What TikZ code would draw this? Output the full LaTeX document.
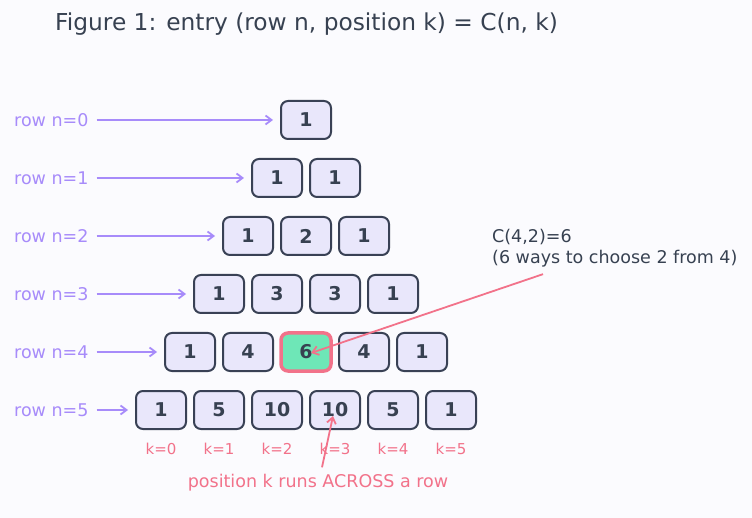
\documentclass[tikz,border=0pt]{standalone}
\usepackage{fontspec}
\setmainfont{DejaVu Sans}
\usetikzlibrary{arrows.meta,positioning}
\definecolor{paperbg}{HTML}{FBFBFE}
\definecolor{slateink}{HTML}{374151}
\definecolor{cellfill}{HTML}{E9E7FB}
\definecolor{cellline}{HTML}{394155}
\definecolor{rowpurple}{HTML}{A78BFA}
\definecolor{notepink}{HTML}{F2728A}
\definecolor{pickgreen}{HTML}{6EE7B7}
\tikzset{
  cell/.style={
    draw=cellline,
    fill=cellfill,
    rounded corners=7pt,
    line width=2pt,
    minimum width=50pt,
    minimum height=38pt,
    inner sep=0pt,
    outer sep=0pt,
    text=slateink,
    font=\fontsize{19}{22}\selectfont\bfseries
  },
  pickedcell/.style={
    cell,
    draw=notepink,
    fill=pickgreen,
    line width=3.5pt
  },
  rowlabel/.style={
    anchor=west,
    inner sep=0pt,
    text=rowpurple,
    font=\fontsize{17.5}{21}\selectfont
  },
  klabel/.style={
    inner sep=0pt,
    text=notepink,
    font=\fontsize{15}{18}\selectfont
  },
  rowarrow/.style={
    -{Straight Barb[length=6pt,width=9pt]},
    line width=1.8pt,
    draw=rowpurple,
    shorten <=8pt,
    shorten >=8pt
  },
  notearrow/.style={
    -{Straight Barb[length=6pt,width=9pt]},
    line width=1.8pt,
    draw=notepink
  }
}

\begin{document}
\begin{tikzpicture}[x=1pt,y=-1pt,node distance=8pt and 8pt]
  \fill[paperbg] (0,0) rectangle (752,518);
  \useasboundingbox (0,0) rectangle (752,518);

  \node[anchor=west, inner sep=0pt, text=slateink, font=\fontsize{23.3}{28}\selectfont] (title) at (55,24) {Figure 1: entry (row n, position k) = C(n, k)};

  % rows of the triangle
  \node[cell] (r0k0) at (306,120) {1};

  \node[cell] (r1k0) at (277,178) {1};
  \node[cell, right=of r1k0] (r1k1) {1};

  \node[cell] (r2k0) at (248,236) {1};
  \node[cell, right=of r2k0] (r2k1) {2};
  \node[cell, right=of r2k1] (r2k2) {1};

  \node[cell] (r3k0) at (219,294) {1};
  \node[cell, right=of r3k0] (r3k1) {3};
  \node[cell, right=of r3k1] (r3k2) {3};
  \node[cell, right=of r3k2] (r3k3) {1};

  \node[cell] (r4k0) at (190,352) {1};
  \node[cell, right=of r4k0] (r4k1) {4};
  \node[pickedcell, right=of r4k1] (r4k2) {6};
  \node[cell, right=of r4k2] (r4k3) {4};
  \node[cell, right=of r4k3] (r4k4) {1};

  \node[cell] (r5k0) at (161,410) {1};
  \node[cell, right=of r5k0] (r5k1) {5};
  \node[cell, right=of r5k1] (r5k2) {10};
  \node[cell, right=of r5k2] (r5k3) {10};
  \node[cell, right=of r5k3] (r5k4) {5};
  \node[cell, right=of r5k4] (r5k5) {1};

  % row labels
  \node[rowlabel] (lab0) at (14,120) {row n=0};
  \node[rowlabel] (lab1) at (14,178) {row n=1};
  \node[rowlabel] (lab2) at (14,236) {row n=2};
  \node[rowlabel] (lab3) at (14,294) {row n=3};
  \node[rowlabel] (lab4) at (14,352) {row n=4};
  \node[rowlabel] (lab5) at (14,410) {row n=5};

  \draw[rowarrow] (lab0) -- (r0k0);
  \draw[rowarrow] (lab1) -- (r1k0);
  \draw[rowarrow] (lab2) -- (r2k0);
  \draw[rowarrow] (lab3) -- (r3k0);
  \draw[rowarrow] (lab4) -- (r4k0);
  \draw[rowarrow] (lab5) -- (r5k0);

  % positions along the last row
  \node[klabel, below=14pt of r5k0] (pos0) {k=0};
  \node[klabel, below=14pt of r5k1] (pos1) {k=1};
  \node[klabel, below=14pt of r5k2] (pos2) {k=2};
  \node[klabel, below=14pt of r5k3] (pos3) {k=3};
  \node[klabel, below=14pt of r5k4] (pos4) {k=4};
  \node[klabel, below=14pt of r5k5] (pos5) {k=5};

  \node[inner sep=0pt, text=notepink, font=\fontsize{17.5}{21}\selectfont] (across) at (318,483) {position k runs ACROSS a row};
  \draw[notearrow] ([xshift=4pt,yshift=7pt]across.north) -- ([xshift=-2pt,yshift=-6pt]r5k3.center);

  % annotation of the picked entry
  \node[anchor=west, align=left, inner sep=0pt, text=slateink, font=\fontsize{17.5}{21}\selectfont] (note) at (492,248) {C(4,2)=6\\(6 ways to choose 2 from 4)};
  \draw[notearrow] ([xshift=51pt,yshift=-7pt]note.south west) -- ([xshift=5pt,yshift=-1pt]r4k2.center);
\end{tikzpicture}
\end{document}
